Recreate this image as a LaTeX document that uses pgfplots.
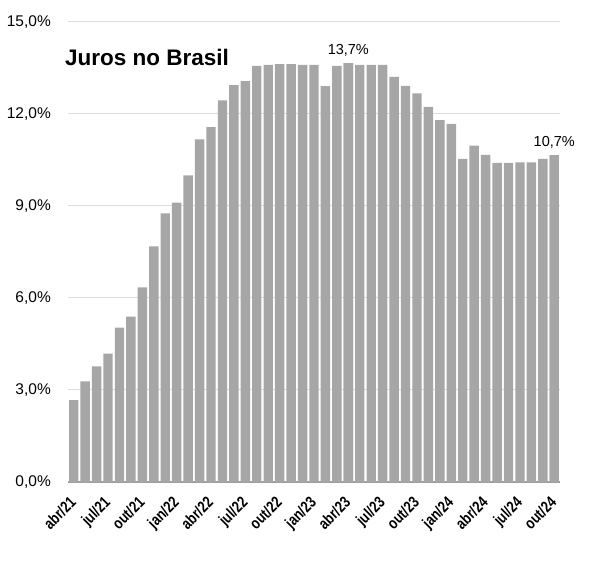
\documentclass[border=0pt]{standalone}
\usepackage{pgfplots}
\pgfplotsset{compat=1.18}
\usepackage{pgfplotstable}
\usepackage{fontspec}
\setmainfont{Liberation Sans}
\newfontfamily\narrowfont[FakeStretch=0.8]{Liberation Sans}

\definecolor{barcol}{HTML}{A6A6A6}
\definecolor{gridcol}{HTML}{DCDCDC}
\definecolor{axcol}{HTML}{A0A0A0}

% Taxa de juros mensal (% a.a.), abr/21 a out/24
\pgfplotstableread{
idx rate
0  2.67
1  3.28
2  3.77
3  4.19
4  5.03
5  5.39
6  6.35
7  7.68
8  8.76
9  9.11
10 10.00
11 11.17
12 11.57
13 12.44
14 12.94
15 13.07
16 13.57
17 13.60
18 13.63
19 13.63
20 13.60
21 13.60
22 12.91
23 13.57
24 13.66
25 13.60
26 13.60
27 13.60
28 13.21
29 12.92
30 12.67
31 12.23
32 11.80
33 11.68
34 10.54
35 10.97
36 10.67
37 10.41
38 10.41
39 10.42
40 10.42
41 10.54
42 10.66
}\juros

% Meses destacados com rótulo
\pgfplotstableread{
idx rate
24 13.66
42 10.66
}\destaque

\begin{document}
\begin{tikzpicture}
\path[use as bounding box] (-68pt,-90pt) rectangle (524pt,482pt);
\begin{axis}[
  at={(0pt,0pt)}, anchor=south west,
  scale only axis, width=492pt, height=460pt,
  xmin=-0.5, xmax=42.5, ymin=0, ymax=15,
  clip=false,
  /pgf/number format/assume math mode=true,
  axis x line=bottom, axis y line=left,
  x axis line style={draw=axcol, line width=1.2pt, -},
  y axis line style={draw=none},
  major tick length=0pt,
  ymajorgrids, grid style={draw=gridcol, line width=1pt},
  ytick={0,3,6,9,12,15},
  yticklabel={\pgfmathprintnumber[fixed,fixed zerofill,precision=1,use comma]{\tick}\%},
  yticklabel style={font=\fontsize{15.5}{17}\selectfont, anchor=east, inner sep=0pt, xshift=-17pt},
  xtick={0,3,...,42},
  xticklabels={abr/21,jul/21,out/21,jan/22,abr/22,jul/22,out/22,jan/23,abr/23,jul/23,out/23,jan/24,abr/24,jul/24,out/24},
  xticklabel style={font=\fontsize{16}{18}\selectfont\narrowfont\bfseries, xshift=-5pt, yshift=-13pt, rotate=45, anchor=north east, inner sep=0pt},
]
\addplot[ybar, bar width=9.4pt, bar shift=0pt, fill=barcol, draw=none] table[x=idx, y=rate] {\juros};
\addplot[ybar, bar width=9.4pt, bar shift=0pt, fill=barcol, draw=none,
  point meta=y,
  nodes near coords={\pgfmathprintnumber[fixed,fixed zerofill,precision=1,use comma]{\pgfplotspointmeta}\%},
  every node near coord/.append style={font=\fontsize{14.5}{16}\selectfont, anchor=base, yshift=9pt, inner sep=0pt, text=black},
] table[x=idx, y=rate] {\destaque};
\node[anchor=base west, font=\fontsize{22.5}{26}\selectfont\bfseries, inner sep=0pt] at (axis cs:-0.76,13.58) {Juros no Brasil};
\end{axis}
\end{tikzpicture}
\end{document}
